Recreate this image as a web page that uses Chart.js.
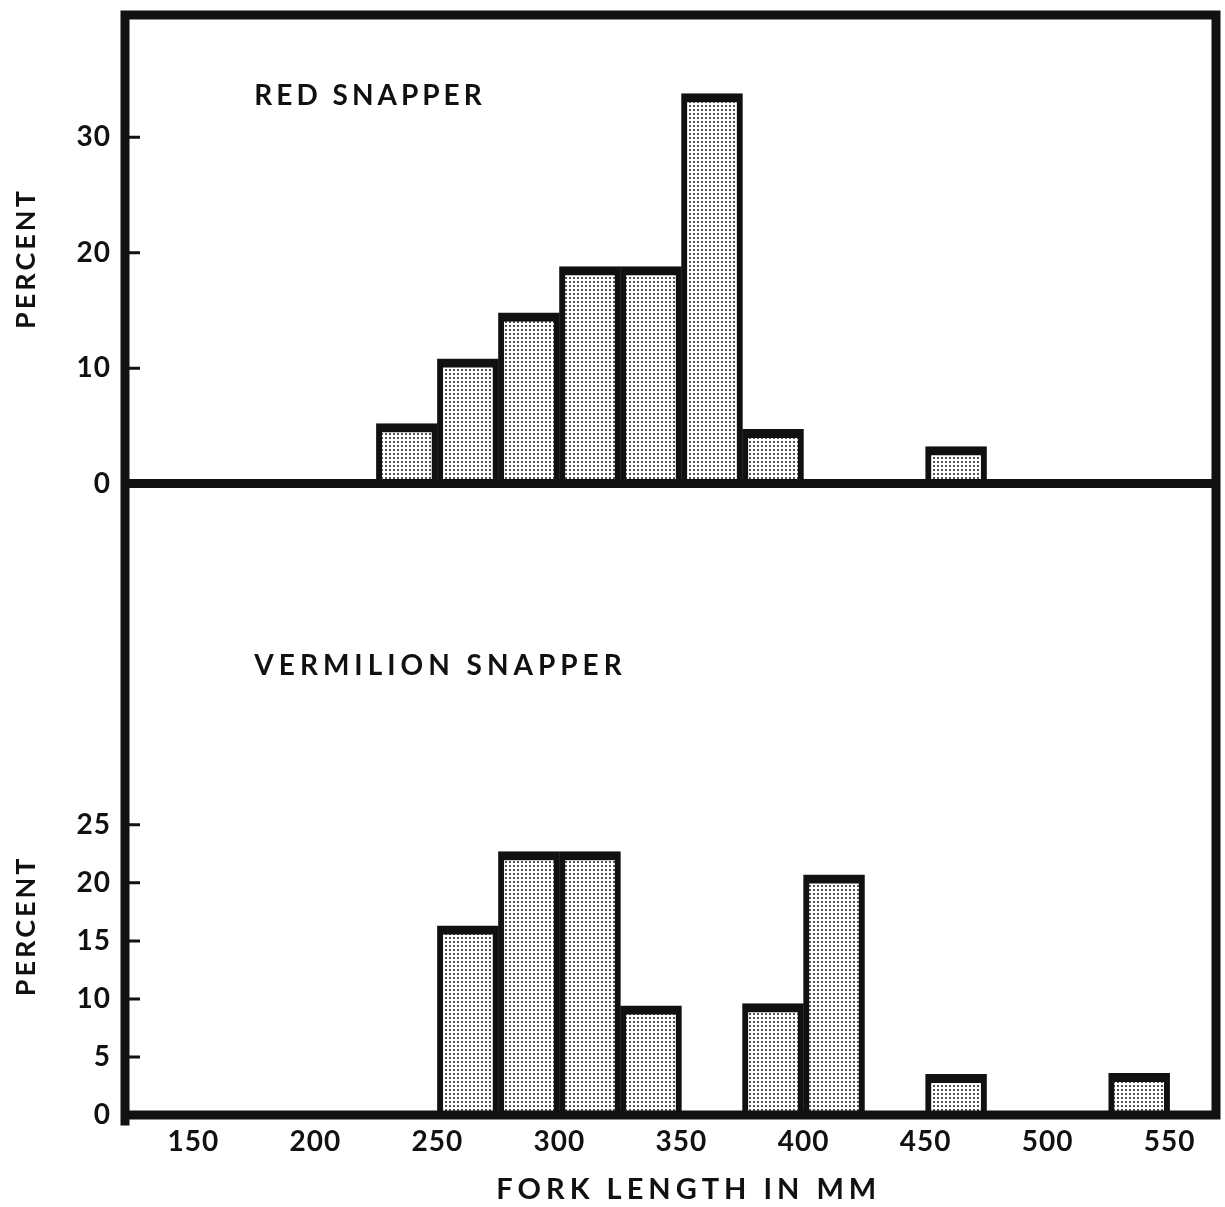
<!DOCTYPE html>
<html>
<head>
<meta charset="utf-8">
<script src="https://cdn.jsdelivr.net/npm/chart.js@4.4.1/dist/chart.umd.min.js"></script>
<style>
html,body{margin:0;padding:0;background:#fff;}
#wrap{width:1225px;height:1207px;}
</style>
</head>
<body>
<div id="wrap"><canvas id="chart" width="1225" height="1207"></canvas></div>
<script>
// length classes are 25 mm wide, given by their lower edge
const binWidth = 25;
const redBins = [225, 250, 275, 300, 325, 350, 375, 450];
const redPercent = [5.2, 10.8, 14.8, 18.8, 18.8, 33.8, 4.7, 3.2];
const vermilionBins = [250, 275, 300, 325, 375, 400, 450, 525];
const vermilionPercent = [16.3, 22.7, 22.7, 9.4, 9.6, 20.7, 3.5, 3.6];
const lengthTicks = [150, 200, 250, 300, 350, 400, 450, 500, 550];
const redTicks = [0, 10, 20, 30];
const vermilionTicks = [0, 5, 10, 15, 20, 25];

const ink = "#111111";
const fontFamily = "Lato, 'DejaVu Sans', sans-serif";

function toPoints(bins, values){
    return bins.map(function(b, i){
        return {x: b + binWidth / 2, y: values[i]};
    });
}

function useTicks(list){
    return function(scale){
        scale.ticks = list.map(function(v){ return {value: v}; });
    };
}

// no extra room for label overhang, the frame sits at the padding edge
function fixWidth(w){
    return function(s){
        s.width = w;
        s.paddingTop = 0;
        s.paddingBottom = 0;
    };
}

document.addEventListener("DOMContentLoaded", function(){
    const canvas = document.getElementById("chart");
    const ctx = canvas.getContext("2d");

    // stipple fill like the printed halftone
    const tile = document.createElement("canvas");
    tile.width = 4;
    tile.height = 4;
    const t = tile.getContext("2d");
    t.fillStyle = "#ffffff";
    t.fillRect(0, 0, 4, 4);
    t.fillStyle = "#555555";
    t.fillRect(1, 1, 2, 2);
    const stipple = ctx.createPattern(tile, "repeat");

    const barStyle = {
        backgroundColor: stipple,
        borderColor: ink,
        borderWidth: {top: 9, left: 6, right: 6, bottom: 0},
        borderSkipped: "start",
        barPercentage: 1,
        categoryPercentage: 1,
        grouped: false
    };

    const framePlugin = {
        id: "frame",
        beforeDraw: function(chart){
            chart.ctx.letterSpacing = "1px";
        },
        afterDatasetsDraw: function(chart){
            const c = chart.ctx;
            const a = chart.chartArea;
            const x = chart.scales.x;
            const top = chart.scales.yTop;
            const bot = chart.scales.yBot;
            c.save();
            c.strokeStyle = ink;
            c.lineCap = "square";
            c.lineWidth = 9;
            c.beginPath();
            c.moveTo(a.left, a.top);
            c.lineTo(a.right, a.top);
            c.lineTo(a.right, a.bottom);
            c.moveTo(a.left, a.top);
            c.lineTo(a.left, a.bottom + 6);
            c.moveTo(a.left, top.getPixelForValue(0));
            c.lineTo(a.right, top.getPixelForValue(0));
            c.moveTo(a.left, bot.getPixelForValue(0));
            c.lineTo(a.right, bot.getPixelForValue(0));
            c.stroke();

            c.lineWidth = 3;
            c.lineCap = "butt";
            c.beginPath();
            [top, bot].forEach(function(s){
                s.ticks.forEach(function(tk){
                    if(tk.value === 0){
                        return;
                    }
                    const y = s.getPixelForValue(tk.value);
                    c.moveTo(a.left, y);
                    c.lineTo(a.left + 15, y);
                });
            });
            c.stroke();

            c.fillStyle = ink;
            c.letterSpacing = "4px";
            c.font = "bold 28px " + fontFamily;
            c.textAlign = "left";
            c.textBaseline = "middle";
            c.fillText("RED SNAPPER", x.getPixelForValue(175), top.getPixelForValue(33.6));
            c.letterSpacing = "5px";
            c.fillText("VERMILION SNAPPER", x.getPixelForValue(175), bot.getPixelForValue(38.7));

            c.letterSpacing = "5px";
            c.font = "bold 29px " + fontFamily;
            c.textAlign = "center";
            c.fillText("FORK LENGTH IN MM", x.getPixelForValue(353), a.bottom + 75);

            c.letterSpacing = "3px";
            c.font = "bold 27px " + fontFamily;
            [[top, 19.5], [bot, 16.3]].forEach(function(p){
                c.save();
                c.translate(26, p[0].getPixelForValue(p[1]));
                c.rotate(-Math.PI / 2);
                c.fillText("PERCENT", 0, 0);
                c.restore();
            });
            c.restore();
        }
    };

    const tickFont = {family: fontFamily, size: 28, weight: "bold"};

    new Chart(ctx, {
        type: "bar",
        data: {
            datasets: [
                Object.assign({label: "Red snapper", data: toPoints(redBins, redPercent), yAxisID: "yTop"}, barStyle),
                Object.assign({label: "Vermilion snapper", data: toPoints(vermilionBins, vermilionPercent), yAxisID: "yBot"}, barStyle)
            ]
        },
        options: {
            responsive: false,
            animation: false,
            layout: {padding: {top: 15, right: 9, left: 0, bottom: 0}},
            plugins: {
                legend: {display: false},
                tooltip: {enabled: false}
            },
            scales: {
                x: {
                    type: "linear",
                    position: "bottom",
                    min: 122,
                    max: 569,
                    offset: false,
                    afterBuildTicks: useTicks(lengthTicks),
                    afterFit: function(s){
                        s.height = 92;
                        s.paddingLeft = 0;
                        s.paddingRight = 0;
                    },
                    grid: {display: false, drawTicks: false},
                    border: {display: false},
                    ticks: {color: ink, font: tickFont, padding: 10, maxRotation: 0, autoSkip: false}
                },
                // the later-listed stacked scale is laid out above the earlier one
                yBot: {
                    type: "linear",
                    position: "left",
                    stack: "panels",
                    stackWeight: 632,
                    min: 0,
                    max: 54.4,
                    afterBuildTicks: useTicks(vermilionTicks),
                    afterFit: fixWidth(125),
                    grid: {display: false, drawTicks: false},
                    border: {display: false},
                    ticks: {color: ink, font: tickFont, padding: 14}
                },
                yTop: {
                    type: "linear",
                    position: "left",
                    stack: "panels",
                    stackWeight: 469,
                    min: 0,
                    max: 40.6,
                    afterBuildTicks: useTicks(redTicks),
                    afterFit: fixWidth(125),
                    grid: {display: false, drawTicks: false},
                    border: {display: false},
                    ticks: {color: ink, font: tickFont, padding: 14}
                }
            }
        },
        plugins: [framePlugin]
    });
});
</script>
</body>
</html>
